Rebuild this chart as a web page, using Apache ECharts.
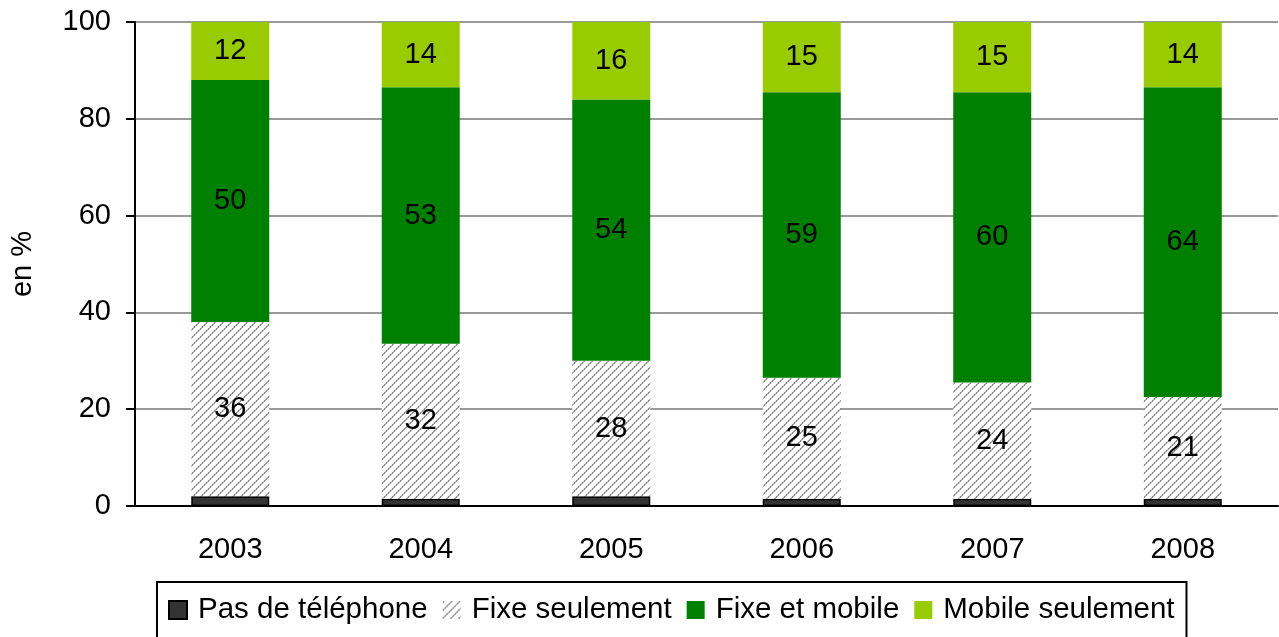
<!DOCTYPE html>
<html>
<head>
<meta charset="utf-8">
<script src="https://cdn.jsdelivr.net/npm/echarts@6/dist/echarts.min.js"></script>
<style>
  html, body { margin: 0; padding: 0; background: #fff; }
  #chart { width: 1279px; height: 637px; }
</style>
</head>
<body>
<div id="chart"></div>
<script>
const years = ['2003', '2004', '2005', '2006', '2007', '2008'];
const pasDeTelephone = [2, 1.5, 2, 1.5, 1.5, 1.5];
const fixeSeulement = [36, 32, 28, 25, 24, 21];
const fixeEtMobile = [50, 53, 54, 59, 60, 64];
const mobileSeulement = [12, 14, 16, 15, 15, 14];
const yTicks = [0, 20, 40, 60, 80, 100];

// motif hachuré pour "Fixe seulement"
const makeHatch = () => {
  const c = document.createElement('canvas');
  c.width = 8;
  c.height = 8;
  const ctx = c.getContext('2d');
  ctx.fillStyle = '#fff';
  ctx.fillRect(0, 0, 8, 8);
  for (let x = 0; x < 8; x++) {
    for (let y = 0; y < 8; y++) {
      const d = (x + y) % 8;
      if (d < 2) {
        ctx.fillStyle = (x % 2 === 0) ? '#8a8a8a' : '#b0b0b0';
        ctx.fillRect(x, y, 1, 1);
      }
    }
  }
  return c;
};
const hatch = { image: makeHatch(), repeat: 'repeat' };

const font = 'Liberation Sans, Arial, sans-serif';
const chart = echarts.init(document.getElementById('chart'));

const label = {
  show: true,
  position: 'inside',
  color: '#000',
  fontSize: 29,
  fontFamily: font
};

chart.setOption({
  animation: false,
  backgroundColor: '#fff',
  grid: { left: 133, right: 1, top: 22, bottom: 131 },
  legend: {
    left: 157,
    top: 582,
    padding: [13, 12, 20, 11],
    borderColor: '#000',
    borderWidth: 2,
    itemWidth: 18,
    itemHeight: 18,
    itemGap: 15,
    icon: 'rect',
    textStyle: { color: '#000', fontSize: 29.5, fontFamily: font, padding: [0, 0, 0, 6] },
    data: ['Pas de téléphone', 'Fixe seulement', 'Fixe et mobile', 'Mobile seulement']
  },
  xAxis: {
    type: 'category',
    data: years,
    axisLine: { lineStyle: { color: '#000', width: 2 } },
    axisTick: { length: 8, lineStyle: { color: '#000', width: 2 } },
    axisLabel: { color: '#000', fontSize: 29, fontFamily: font, margin: 29 }
  },
  yAxis: {
    type: 'value',
    min: 0,
    max: 100,
    interval: yTicks[1] - yTicks[0],
    name: 'en %',
    nameLocation: 'middle',
    nameGap: 98,
    nameTextStyle: { color: '#000', fontSize: 29, fontFamily: font },
    axisLine: { show: true, lineStyle: { color: '#000', width: 2 } },
    axisTick: { show: true, length: 9, lineStyle: { color: '#000', width: 2 } },
    axisLabel: { color: '#000', fontSize: 29, fontFamily: font, margin: 24 },
    splitLine: { lineStyle: { color: '#999', width: 2 } }
  },
  series: [
    {
      name: 'Pas de téléphone',
      type: 'bar',
      stack: 'tel',
      barWidth: 78,
      data: pasDeTelephone,
      itemStyle: { color: '#333', borderColor: '#000', borderWidth: 1.5 }
    },
    {
      name: 'Fixe seulement',
      type: 'bar',
      stack: 'tel',
      data: fixeSeulement,
      itemStyle: { color: hatch },
      label
    },
    {
      name: 'Fixe et mobile',
      type: 'bar',
      stack: 'tel',
      data: fixeEtMobile,
      itemStyle: { color: '#008000' },
      label
    },
    {
      name: 'Mobile seulement',
      type: 'bar',
      stack: 'tel',
      data: mobileSeulement,
      itemStyle: { color: '#99cc00' },
      label
    }
  ]
});
</script>
</body>
</html>
